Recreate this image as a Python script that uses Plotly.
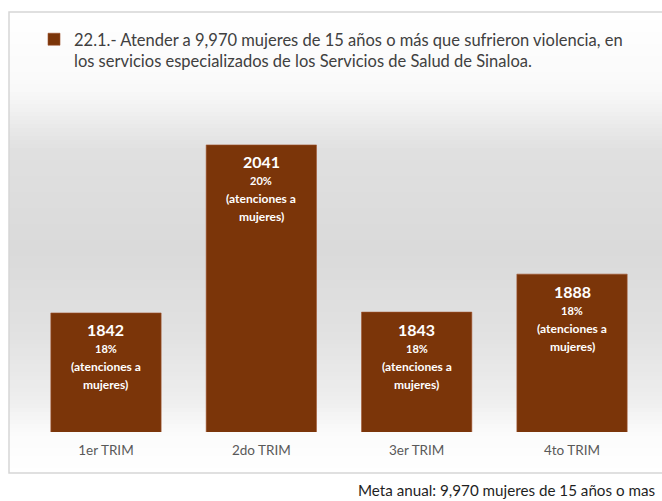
import plotly.graph_objects as go

categories = ["1er TRIM", "2do TRIM", "3er TRIM", "4to TRIM"]
values = [1842, 2041, 1843, 1888]
percents = [18, 20, 18, 18]
legend_name = ("22.1.- Atender a 9,970 mujeres de 15 años o más que sufrieron violencia, en<br>"
               "los servicios especializados de los Servicios de Salud de Sinaloa.")
footer = "Meta anual: 9,970 mujeres de 15 años o mas"
detail_lines = ["(atenciones a", "mujeres)"]

W, H = 662, 501
BAR = "#7B3509"
FONT = "Lato"


def py(p):
    return (H - p) / H


def px(p):
    return p / W


fig = go.Figure()
fig.add_trace(go.Bar(
    x=categories, y=values, name=legend_name,
    marker=dict(color=BAR, line=dict(color="#A0522D", width=0.6)),
    width=0.71, showlegend=True, hoverinfo="x+y",
))

shapes = []
# gradient background
stops = [(12, 255), (90, 249), (150, 224), (250, 218), (330, 225), (400, 238), (432, 251), (473, 255)]
step = 4
y = 12
while y < 473:
    y2 = min(y + step, 473)
    mid = (y + y2) / 2
    for (a, ga), (b, gb) in zip(stops[:-1], stops[1:]):
        if a <= mid <= b:
            g = int(round(ga + (gb - ga) * (mid - a) / (b - a)))
            break
    shapes.append(dict(type="rect", xref="paper", yref="paper", x0=px(9), x1=1.05,
                       y0=py(y2 + 0.5), y1=py(y), fillcolor=f"rgb({g},{g},{g})",
                       line=dict(width=0), layer="below"))
    y = y2
# frame
shapes.append(dict(type="rect", xref="paper", yref="paper", x0=px(9), x1=1.05,
                   y0=py(473), y1=py(12), line=dict(color="#d6d6d6", width=1.5),
                   fillcolor="rgba(0,0,0,0)", layer="below"))

annotations = []
for c, v, p in zip(categories, values, percents):
    annotations.append(dict(x=c, y=v, xref="x", yref="y", text=f"<b>{v}</b>", showarrow=False,
                            yanchor="middle", yshift=-17, font=dict(family=FONT, size=16, color="white")))
    annotations.append(dict(x=c, y=v, xref="x", yref="y", text=f"<b>{p}%</b>", showarrow=False,
                            yanchor="middle", yshift=-36, font=dict(family=FONT, size=11, color="white")))
    for k, line in enumerate(detail_lines):
        annotations.append(dict(x=c, y=v, xref="x", yref="y", text=f"<b>{line}</b>", showarrow=False,
                                yanchor="middle", yshift=-54 - 18 * k,
                                font=dict(family=FONT, size=12, color="white")))
annotations.append(dict(x=px(356), y=py(490), xref="paper", yref="paper", text=footer,
                        showarrow=False, xanchor="left", yanchor="middle",
                        font=dict(family=FONT, size=15.2, color="#1f1f1f")))

fig.update_layout(
    width=W, height=H, autosize=False,
    margin=dict(l=0, r=0, t=0, b=0),
    paper_bgcolor="white", plot_bgcolor="rgba(0,0,0,0)",
    font=dict(family=FONT),
    shapes=shapes, annotations=annotations,
    showlegend=True,
    legend=dict(x=px(34), y=py(22), xanchor="left", yanchor="top", valign="top",
                bgcolor="rgba(0,0,0,0)", font=dict(family=FONT, size=16.5, color="#404040")),
    xaxis=dict(domain=[px(28.3), px(649.7)], range=[-0.5, 3.5], showgrid=False, zeroline=False,
               showline=False, ticks="", tickfont=dict(family=FONT, size=13.5, color="#595959"),
               ticklabelstandoff=8, fixedrange=True),
    yaxis=dict(domain=[py(432), py(94.3)], range=[1701, 2101], visible=False, fixedrange=True),
)

fig.write_html(
    "out.html",
    config={"displayModeBar": False},
    post_script="document.body.style.margin='0';document.body.style.overflow='hidden';",
)
